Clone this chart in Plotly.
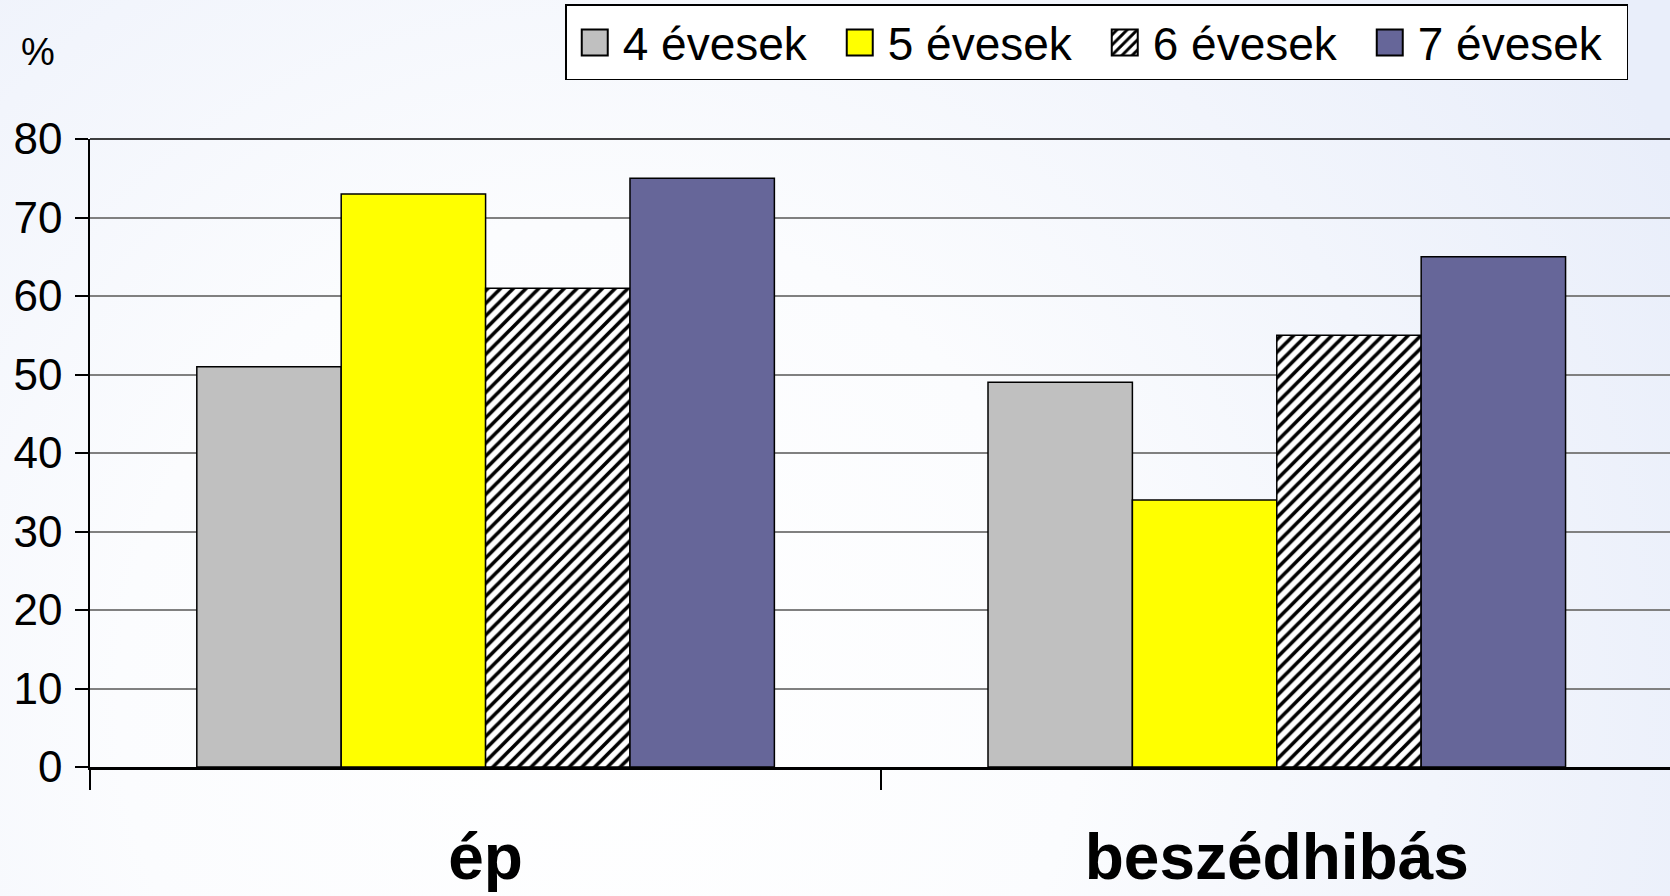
import base64
import plotly.graph_objects as go

categories = ["ép", "beszédhibás"]
series_names = ["4 évesek", "5 évesek", "6 évesek", "7 évesek"]
values_4 = [51, 49]
values_5 = [73, 34]
values_6 = [61, 55]
values_7 = [75, 65]
y_ticks = [0, 10, 20, 30, 40, 50, 60, 70, 80]

FONT = "Liberation Sans, Arial, sans-serif"
W, H = 1670, 896
ML, MR, MT, MB = 90, 0, 139, 129
PW, PH = W - ML - MR, H - MT - MB

fig = go.Figure()
fig.add_bar(name=series_names[0], x=categories, y=values_4,
            marker=dict(color="#C0C0C0", line=dict(color="black", width=1.5)))
fig.add_bar(name=series_names[1], x=categories, y=values_5,
            marker=dict(color="#FFFF00", line=dict(color="black", width=1.5)))
fig.add_bar(name=series_names[2], x=categories, y=values_6,
            marker=dict(color="white", line=dict(color="black", width=1.5),
                        pattern=dict(shape="/", fgcolor="black", bgcolor="white",
                                     size=9, solidity=0.4, fillmode="replace")))
fig.add_bar(name=series_names[3], x=categories, y=values_7,
            marker=dict(color="#666699", line=dict(color="black", width=1.5)))

svg = """<svg xmlns='http://www.w3.org/2000/svg' width='1670' height='896' viewBox='0 0 1670 896' preserveAspectRatio='none'>
<defs><radialGradient id='g' gradientUnits='userSpaceOnUse' cx='600' cy='700' r='1200'>
<stop offset='0' stop-color='#FFFFFF'/><stop offset='0.4' stop-color='#FBFCFE'/>
<stop offset='1' stop-color='#E9EEFA'/></radialGradient></defs>
<rect width='1670' height='896' fill='url(#g)'/></svg>"""
src = "data:image/svg+xml;base64," + base64.b64encode(svg.encode()).decode()

fig.update_layout(
    width=W, height=H,
    margin=dict(l=ML, r=MR, t=MT, b=MB),
    paper_bgcolor="#F4F6FD",
    plot_bgcolor="rgba(0,0,0,0)",
    barmode="group", bargap=0.27, bargroupgap=0,
    font=dict(family=FONT, color="black"),
    images=[dict(source=src, xref="paper", yref="paper", x=-ML / PW, y=1 + MT / PH,
                 sizex=W / PW, sizey=H / PH, xanchor="left", yanchor="top",
                 sizing="stretch", layer="below")],
    legend=dict(orientation="h", xref="container", yref="container",
                x=0.975, xanchor="right", y=0.995, yanchor="top",
                bgcolor="white", bordercolor="black", borderwidth=1.5,
                font=dict(family=FONT, size=46, color="black"),
                itemsizing="constant", traceorder="normal", itemwidth=46,
                entrywidth=204, entrywidthmode="pixels"),
    showlegend=True,
    xaxis=dict(type="category", range=[-0.5, 1.497], tickson="boundaries",
               ticks="outside", ticklen=20, tickwidth=1.5, tickcolor="black",
               showline=True, linecolor="black", linewidth=2.5, mirror=False,
               showgrid=False, ticklabelstandoff=32,
               tickfont=dict(family=FONT, size=64, color="black", weight="bold")),
    yaxis=dict(range=[0, 80], tickvals=y_ticks, ticks="outside", ticklen=13,
               tickwidth=1.5, tickcolor="black", showline=True, linecolor="black",
               linewidth=1.5, showgrid=True, gridcolor="#808080", gridwidth=1.5,
               zeroline=False, ticklabelstandoff=4,
               tickfont=dict(family=FONT, size=44, color="black")),
    shapes=[dict(type="line", xref="paper", yref="paper", x0=0, x1=1, y0=1, y1=1,
                 line=dict(color="black", width=1.5))],
    annotations=[dict(text="%", xref="paper", yref="paper", x=-0.0326, y=1.138,
                      xanchor="center", yanchor="middle",
                      showarrow=False, font=dict(family=FONT, size=38, color="black"))],
)

post = """
document.body.style.margin = '0px';
document.querySelectorAll('.legendpoints path').forEach(function(p){
  p.setAttribute('d', 'M13,13H-13V-13H13Z');
});
"""
fig.write_html("out.html", post_script=post, config={"displayModeBar": False})
